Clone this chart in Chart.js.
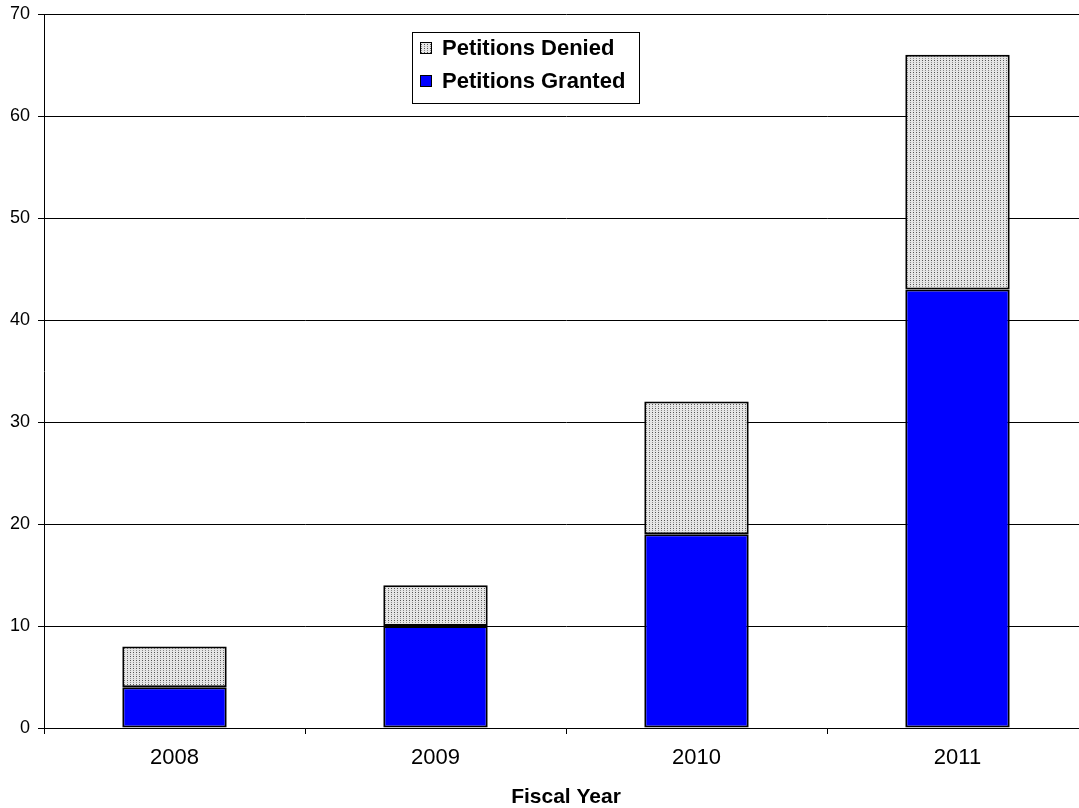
<!DOCTYPE html>
<html>
<head>
<meta charset="utf-8">
<script src="https://cdn.jsdelivr.net/npm/chart.js@4/dist/chart.umd.min.js"></script>
<style>
  html, body { margin: 0; padding: 0; background: #fff; overflow: hidden; }
  #wrap { width: 1090px; height: 808px; }
</style>
</head>
<body>
<div id="wrap"><canvas id="c" width="1090" height="808"></canvas></div>
<script>
const categories = ['2008', '2009', '2010', '2011'];
const petitionsGranted = [4, 10, 19, 43];
const petitionsDenied = [4, 4, 13, 23];
const yTicks = [0, 10, 20, 30, 40, 50, 60, 70];
const xTitle = 'Fiscal Year';
const seriesNames = ['Petitions Granted', 'Petitions Denied'];

function makeDotPattern() {
  const t = document.createElement('canvas');
  t.width = 3; t.height = 4;
  const g = t.getContext('2d');
  g.fillStyle = '#e6e6e6';
  g.fillRect(0, 0, 3, 4);
  g.fillStyle = '#555555';
  g.fillRect(1, 0, 1, 1);
  g.fillStyle = '#8c8c8c';
  g.fillRect(1, 2, 1, 1);
  return document.getElementById('c').getContext('2d').createPattern(t, 'repeat');
}
const dotPattern = makeDotPattern();
const FONT = "'Liberation Sans', Arial, sans-serif";

const legendPlugin = {
  id: 'boxLegend',
  afterDraw(chart) {
    const ctx = chart.ctx;
    ctx.save();
    const x0 = 412, y0 = 32, w = 227, h = 71;
    ctx.fillStyle = '#fff';
    ctx.fillRect(x0, y0, w, h);
    ctx.strokeStyle = '#000';
    ctx.lineWidth = 1;
    ctx.strokeRect(x0 + 0.5, y0 + 0.5, w, h);
    const items = [chart.data.datasets[1], chart.data.datasets[0]];
    const rows = [48, 81];
    ctx.font = 'bold 22px ' + FONT;
    ctx.textBaseline = 'middle';
    items.forEach((ds, i) => {
      const cy = rows[i];
      ctx.fillStyle = ds.backgroundColor;
      ctx.fillRect(420, cy - 6, 12, 12);
      ctx.strokeStyle = '#000';
      ctx.strokeRect(420.5, cy - 5.5, 11, 11);
      ctx.fillStyle = '#000';
      ctx.fillText(ds.label, 442, cy + 1);
    });
    ctx.restore();
  }
};

new Chart(document.getElementById('c'), {
  type: 'bar',
  data: {
    labels: categories,
    datasets: [
      { label: seriesNames[0], data: petitionsGranted, backgroundColor: '#0000ff', borderColor: '#000', borderWidth: 2, borderSkipped: false },
      { label: seriesNames[1], data: petitionsDenied, backgroundColor: dotPattern, borderColor: '#000', borderWidth: 2, borderSkipped: false }
    ]
  },
  options: {
    responsive: false,
    animation: false,
    devicePixelRatio: 1,
    layout: { padding: { top: 14, left: 0, right: 2, bottom: 0 } },
    datasets: { bar: { categoryPercentage: 0.4, barPercentage: 1.0 } },
    plugins: { legend: { display: false }, tooltip: { enabled: false } },
    scales: {
      x: {
        stacked: true,
        afterFit(s) { s.height = 80; s.paddingLeft = 0; s.paddingRight = 0; },
        grid: { display: true, drawOnChartArea: false, drawTicks: true, tickLength: 6, color: '#000', offset: true },
        border: { display: true, color: '#000', width: 1 },
        ticks: { color: '#000', font: { family: FONT, size: 22 }, padding: 11 },
        title: { display: true, text: xTitle, color: '#000', font: { family: FONT, size: 21, weight: 'bold', lineHeight: 1 }, padding: { top: 0, bottom: 0 } }
      },
      y: {
        stacked: true,
        min: 0, max: 70,
        afterFit(s) { s.width = 44; s.paddingTop = 0; s.paddingBottom = 0; },
        afterBuildTicks(s) { s.ticks = yTicks.map(v => ({ value: v })); },
        grid: { color: '#000', lineWidth: 1, tickLength: 6, drawTicks: true },
        border: { display: true, color: '#000', width: 1 },
        ticks: { color: '#000', font: { family: FONT, size: 18 }, padding: 8 }
      }
    }
  },
  plugins: [legendPlugin]
});
</script>
</body>
</html>
